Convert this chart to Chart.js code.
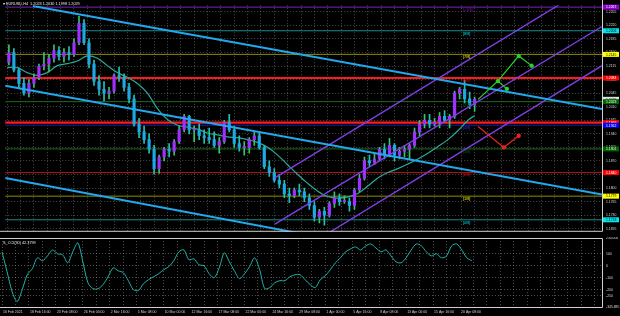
<!DOCTYPE html>
<html>
<head>
<meta charset="utf-8">
<title>EURUSD H4</title>
<script src="https://cdn.jsdelivr.net/npm/chart.js@4.4.1/dist/chart.umd.min.js"></script>
<style>
  html, body { margin: 0; padding: 0; background: #000; }
  #wrap { position: relative; width: 620px; height: 316px; overflow: hidden; background: #000; }
  #main { position: absolute; left: 0; top: 0; }
  #cci { position: absolute; left: 0; top: 237px; }
</style>
</head>
<body>
<div id="wrap">
  <canvas id="main" width="620" height="237"></canvas>
  <canvas id="cci" width="620" height="79"></canvas>
</div>
<script>
// ---- data (12h candles = 3 x H4 bars, bar 0 = 16 Feb 00:00) ----
const opens  = [1.2125,1.2150,1.2105,1.2070,1.2045,1.2070,1.2085,1.2115,1.2120,1.2135,1.2155,1.2140,1.2150,1.2145,1.2175,1.2225,1.2175,1.2120,1.2075,1.2055,1.2045,1.2050,1.2090,1.2085,1.2060,1.2030,1.1965,1.1945,1.1925,1.1900,1.1850,1.1880,1.1900,1.1895,1.1920,1.1950,1.1985,1.1950,1.1950,1.1935,1.1930,1.1925,1.1910,1.1920,1.1970,1.1950,1.1915,1.1905,1.1905,1.1925,1.1935,1.1905,1.1855,1.1840,1.1820,1.1810,1.1785,1.1780,1.1795,1.1790,1.1775,1.1755,1.1725,1.1740,1.1730,1.1760,1.1775,1.1765,1.1765,1.1755,1.1795,1.1825,1.1870,1.1865,1.1875,1.1900,1.1885,1.1910,1.1885,1.1895,1.1900,1.1910,1.1945,1.1965,1.1975,1.1965,1.1970,1.1985,1.1975,1.1985,1.2045,1.2055,1.2030,1.2015];
const highs  = [1.2170,1.2160,1.2110,1.2085,1.2080,1.2095,1.2120,1.2150,1.2145,1.2170,1.2165,1.2160,1.2165,1.2185,1.2243,1.2235,1.2185,1.2130,1.2090,1.2075,1.2060,1.2095,1.2112,1.2095,1.2070,1.2040,1.1980,1.1960,1.1940,1.1910,1.1885,1.1905,1.1915,1.1925,1.1960,1.1990,1.1988,1.1960,1.1965,1.1950,1.1955,1.1945,1.1930,1.1975,1.1990,1.1960,1.1935,1.1920,1.1930,1.1945,1.1942,1.1910,1.1870,1.1850,1.1835,1.1820,1.1800,1.1800,1.1810,1.1800,1.1785,1.1765,1.1745,1.1750,1.1765,1.1790,1.1785,1.1780,1.1775,1.1800,1.1835,1.1880,1.1885,1.1890,1.1905,1.1915,1.1928,1.1915,1.1905,1.1910,1.1915,1.1955,1.1975,1.1990,1.1990,1.1980,1.1995,1.2000,1.1990,1.2050,1.2060,1.2079,1.2048,1.2035];
const lows   = [1.2118,1.2100,1.2060,1.2040,1.2035,1.2060,1.2080,1.2105,1.2100,1.2125,1.2130,1.2125,1.2130,1.2140,1.2170,1.2170,1.2110,1.2065,1.2040,1.2025,1.2030,1.2045,1.2075,1.2050,1.2020,1.1960,1.1930,1.1915,1.1890,1.1836,1.1838,1.1870,1.1880,1.1885,1.1915,1.1945,1.1940,1.1920,1.1925,1.1915,1.1915,1.1905,1.1890,1.1915,1.1945,1.1905,1.1895,1.1885,1.1890,1.1910,1.1900,1.1850,1.1830,1.1815,1.1800,1.1775,1.1762,1.1775,1.1780,1.1765,1.1745,1.1715,1.1710,1.1704,1.1725,1.1750,1.1755,1.1760,1.1740,1.1745,1.1790,1.1820,1.1855,1.1860,1.1870,1.1875,1.1880,1.1870,1.1875,1.1880,1.1875,1.1905,1.1935,1.1955,1.1955,1.1960,1.1955,1.1970,1.1955,1.1980,1.2030,1.2020,1.2005,1.1998];
const closes = [1.2150,1.2105,1.2070,1.2045,1.2070,1.2085,1.2115,1.2120,1.2135,1.2155,1.2140,1.2150,1.2145,1.2175,1.2225,1.2175,1.2120,1.2075,1.2055,1.2045,1.2050,1.2090,1.2085,1.2060,1.2030,1.1965,1.1945,1.1925,1.1900,1.1850,1.1880,1.1900,1.1895,1.1920,1.1950,1.1985,1.1950,1.1950,1.1935,1.1930,1.1925,1.1910,1.1920,1.1970,1.1950,1.1915,1.1905,1.1905,1.1925,1.1935,1.1905,1.1855,1.1840,1.1820,1.1810,1.1785,1.1780,1.1795,1.1790,1.1775,1.1755,1.1725,1.1740,1.1730,1.1760,1.1775,1.1765,1.1765,1.1755,1.1795,1.1825,1.1870,1.1865,1.1875,1.1900,1.1885,1.1910,1.1885,1.1895,1.1900,1.1910,1.1945,1.1965,1.1975,1.1965,1.1970,1.1985,1.1975,1.1985,1.2045,1.2055,1.2030,1.2015,1.2029];

// moving average, one reading per day (bar index, price)
const maBars   = [0,6,12,18,24,30,36,42,48,54,60,66,72,78,84,90,96,102,108,114,120,126,132,138,144,150,156,162,168,174,180,186,192,198,204,210,216,222,228,234,240,246,252,258,264,270,276,280];
const maValues = [1.2111,1.2111,1.2098,1.2091,1.2098,1.2116,1.2121,1.2128,1.2141,1.2135,1.2116,1.2098,1.2086,1.2070,1.2045,1.2005,1.1977,1.1962,1.1957,1.1952,1.1942,1.1937,1.1932,1.1930,1.1925,1.1918,1.1905,1.1885,1.1860,1.1835,1.1812,1.1792,1.1778,1.1774,1.1777,1.1786,1.1805,1.1826,1.1840,1.1850,1.1862,1.1875,1.1890,1.1907,1.1925,1.1948,1.1975,1.1987];

// CCI(30), one reading every 3 bars
const cciValues = [117,-50,-217,-300,-200,-75,-25,67,42,83,133,100,92,25,117,192,33,-142,-192,-192,-158,-92,-17,-42,-58,-125,-200,-208,-150,-117,-92,-67,-33,-8,42,117,133,50,58,8,0,-67,-100,-17,108,33,-42,-108,-67,-8,67,-33,-192,-183,-142,-125,-125,-92,-75,-75,-117,-158,-183,-117,-83,-33,25,67,117,142,158,133,167,183,150,117,133,83,33,25,67,133,183,167,117,83,100,67,83,167,183,133,67,42];
const cciLevels = [100, 0, -100, -200, -250];
const cciMin = -345.885, cciMax = 233.0;

// Murrey math levels
const murreyLevels = [1.2267,1.2206,1.2145,1.2084,1.2023,1.1962,1.1901,1.1840,1.1779,1.1718];
const murreyNames  = ['[+1/8]','[8/8]','[7/8]','[6/8]','[5/8]','[4/8]','[3/8]','[2/8]','[1/8]','[0/8]'];
const murreyLine   = ['#7d22b8','#1a8c8c','#8c8c00','#c81818','#1d6b1d','#1a1aa8','#1d6b1d','#b01515','#8c8c00','#1a8c8c'];
const murreyBox    = ['#9400d3','#00e5ee','#ffff00','#ff0000','#006400','#0000ff','#006400','#ff0000','#ffff00','#00e5ee'];
const murreyText   = ['#fff','#000','#000','#fff','#fff','#fff','#fff','#fff','#000','#000'];

// thick red support / resistance
const redLevels = [1.2084, 1.1969];

// trend lines [bar, price]
const blueLines = [
  [[15.4, 1.2270], [356.3, 1.2004]],
  [[-1.2, 1.2064], [356.3, 1.1783]],
  [[-1.2, 1.1826], [174.0, 1.1684]]
];
const purpleLines = [
  [[160.3, 1.1826], [330.2, 1.2272]],
  [[160.3, 1.1707], [356.3, 1.2217]],
  [[193.6, 1.1687], [356.3, 1.2116]]
];

// forecast paths [bar, price]
const greenPaths = [
  [[282.1, 1.2029], [293.9, 1.2076], [299.3, 1.2056]],
  [[293.9, 1.2076], [306.4, 1.2141], [314.1, 1.2116]]
];
const redPath = [[282.1, 1.1959], [297.5, 1.1905], [306.4, 1.1935]];

const priceTicks = [1.1695,1.1730,1.1765,1.1800,1.1835,1.1870,1.1905,1.1940,1.1975,1.2010,1.2045,1.2080,1.2115,1.2150,1.2185,1.2220,1.2255];
const timeLabels = ['16 Feb 2021','18 Feb 16:00','23 Feb 08:00','26 Feb 00:00','2 Mar 16:00','5 Mar 08:00','10 Mar 00:00','12 Mar 16:00','17 Mar 08:00','22 Mar 00:00','24 Mar 16:00','29 Mar 08:00','1 Apr 00:00','5 Apr 16:00','8 Apr 08:00','13 Apr 00:00','15 Apr 16:00','20 Apr 08:00'];

const symbolText = 'EURUSD,H4  1.2023 1.2030 1.1998 1.2029';
const cciText = 'S_CCI(30) 42.3799';
const lastClose = closes[closes.length - 1];

// ---- chart setup ----
const xMin = -1.2, xMax = 356.3;
const gridBars = [];
for (let b = 0; b <= 352; b += 8) gridBars.push(b);

const bullBody = '#a030ff', bearBody = '#1ea8e4';
const bullWick = '#36c46a', bearWick = '#22c2b0';
const gridColor = 'rgba(150,150,150,0.5)';
const frameColor = '#cfcfcf';
const tinyFont = '"Liberation Sans", Arial, sans-serif';

const candleX = closes.map((c, i) => 3 * i + 1);
const isUp = closes.map((c, i) => c >= opens[i]);
const toPts = arr => arr.map(p => ({ x: p[0], y: p[1] }));

function hLine(price, color, width, order) {
    return {
        type: 'line',
        data: [{ x: xMin, y: price }, { x: xMax, y: price }],
        borderColor: color, borderWidth: width, pointRadius: 0, order: order
    };
}

function fixWidth(w) {
    return scale => { scale.width = w; scale.paddingTop = 0; scale.paddingBottom = 0; };
}

const datasets = [];
murreyLevels.forEach((p, i) => datasets.push(hLine(p, murreyLine[i], 1, 10)));
redLevels.forEach(p => datasets.push(hLine(p, '#ff1a1a', 2.2, 9)));
datasets.push({
    type: 'line',
    data: maBars.map((b, i) => ({ x: b, y: maValues[i] })),
    borderColor: '#2aa89a', borderWidth: 1.2, pointRadius: 0, tension: 0.35, order: 5
});
datasets.push({
    type: 'bar',
    data: candleX.map((x, i) => ({ x: x, y: [lows[i], highs[i]] })),
    backgroundColor: isUp.map(u => u ? bullWick : bearWick),
    barThickness: 1, grouped: false, order: 4
});
datasets.push({
    type: 'bar',
    data: candleX.map((x, i) => ({ x: x, y: [opens[i], closes[i]] })),
    backgroundColor: isUp.map(u => u ? bullBody : bearBody),
    barThickness: 2.5, grouped: false, minBarLength: 1, order: 3
});
blueLines.forEach(l => datasets.push({
    type: 'line', data: toPts(l), borderColor: '#22a8ec', borderWidth: 2, pointRadius: 0, order: 2
}));
purpleLines.forEach(l => datasets.push({
    type: 'line', data: toPts(l), borderColor: '#7f3fe6', borderWidth: 1.4, pointRadius: 0, order: 2
}));
greenPaths.forEach(l => datasets.push({
    type: 'line', data: toPts(l), borderColor: '#2bd12b', backgroundColor: '#2bd12b',
    borderWidth: 1.2, pointRadius: [0, 1.6, 1.6], order: 1
}));
datasets.push({
    type: 'line', data: toPts(redPath), borderColor: '#ee2222', backgroundColor: '#ee2222',
    borderWidth: 1.2, pointRadius: [0, 1.6, 1.6], order: 1
});

const mainOverlay = {
    id: 'mainOverlay',
    afterDatasetsDraw(chart) {
        const { ctx, scales: { x, y } } = chart;
        ctx.save();
        ctx.font = '3.8px ' + tinyFont;
        ctx.textBaseline = 'top';
        murreyLevels.forEach((p, i) => {
            ctx.fillStyle = murreyBox[i] === '#0000ff' ? '#3030ff' : murreyBox[i];
            ctx.fillText(murreyNames[i], x.getPixelForValue(273), y.getPixelForValue(p) + 1);
        });
        ctx.restore();
    },
    afterDraw(chart) {
        const { ctx, chartArea: a, scales: { y } } = chart;
        ctx.save();
        ctx.strokeStyle = frameColor;
        ctx.lineWidth = 1;
        ctx.beginPath();
        ctx.moveTo(a.right + 0.5, 0);
        ctx.lineTo(a.right + 0.5, a.bottom - 0.5);
        ctx.lineTo(0, a.bottom - 0.5);
        ctx.stroke();

        ctx.font = '3.4px ' + tinyFont;
        ctx.textBaseline = 'middle';
        const box = (p, bg, fg) => {
            const yy = y.getPixelForValue(p);
            ctx.fillStyle = bg;
            ctx.fillRect(a.right + 1, yy - 2.5, 16, 5);
            ctx.fillStyle = fg;
            ctx.fillText(p.toFixed(4), a.right + 4, yy + 0.3);
        };
        box(lastClose, '#e0e0e0', '#000');
        murreyLevels.forEach((p, i) => {
            if (i === 5) box(redLevels[1], '#ff0000', '#fff');
            box(p, murreyBox[i], murreyText[i]);
        });

        ctx.fillStyle = '#e8e8e8';
        ctx.textBaseline = 'top';
        ctx.font = '3.8px ' + tinyFont;
        ctx.fillText('\u25BE ' + symbolText, 3, 2);
        ctx.restore();
    }
};

new Chart(document.getElementById('main'), {
    data: { datasets: datasets },
    options: {
        responsive: false,
        animation: false,
        events: [],
        layout: { padding: 0 },
        plugins: { legend: { display: false }, tooltip: { enabled: false } },
        scales: {
            x: {
                type: 'linear', min: xMin, max: xMax, offset: false,
                afterBuildTicks: s => { s.ticks = gridBars.map(v => ({ value: v })); },
                ticks: { display: false },
                grid: { color: gridColor, drawTicks: false, offset: false },
                border: { display: false, dash: [1, 2] }
            },
            y: {
                type: 'linear', position: 'right', min: 1.1687, max: 1.2272,
                afterBuildTicks: s => { s.ticks = priceTicks.map(v => ({ value: v })); },
                afterFit: fixWidth(18),
                ticks: {
                    color: '#d8d8d8', padding: 4, font: { size: 3.4, family: tinyFont },
                    callback: v => v.toFixed(4)
                },
                grid: { color: gridColor, drawTicks: false },
                border: { display: false, dash: [1, 2] }
            }
        }
    },
    plugins: [mainOverlay]
});

const cciOverlay = {
    id: 'cciOverlay',
    afterDraw(chart) {
        const { ctx, chartArea: a } = chart;
        ctx.save();
        ctx.strokeStyle = frameColor;
        ctx.lineWidth = 1;
        ctx.beginPath();
        ctx.moveTo(0, a.top + 0.5);
        ctx.lineTo(a.right + 0.5, a.top + 0.5);
        ctx.lineTo(a.right + 0.5, a.bottom + 0.5);
        ctx.lineTo(0, a.bottom + 0.5);
        ctx.stroke();
        ctx.fillStyle = '#e8e8e8';
        ctx.font = '3.8px ' + tinyFont;
        ctx.textBaseline = 'top';
        ctx.fillText(cciText, 3, a.top + 3);
        ctx.restore();
    }
};

new Chart(document.getElementById('cci'), {
    type: 'line',
    data: {
        datasets: [{
            data: cciValues.map((v, i) => ({ x: 3 * i, y: v })),
            borderColor: '#20b2aa', borderWidth: 1, pointRadius: 0, tension: 0.3
        }]
    },
    options: {
        responsive: false,
        animation: false,
        events: [],
        layout: { padding: { top: 1 } },
        plugins: { legend: { display: false }, tooltip: { enabled: false } },
        scales: {
            x: {
                type: 'linear', min: xMin, max: xMax, offset: false,
                afterBuildTicks: s => { s.ticks = gridBars.map(v => ({ value: v })); },
                afterFit: s => { s.height = 9; s.paddingLeft = 0; s.paddingRight = 0; },
                ticks: {
                    color: '#d0d0d0', padding: 2.5, align: 'start', autoSkip: false,
                    maxRotation: 0, minRotation: 0, font: { size: 3.5, family: tinyFont },
                    callback: v => (v % 16 === 0 && timeLabels[v / 16]) ? ' ' + timeLabels[v / 16] : ''
                },
                grid: { color: gridColor, drawTicks: false, offset: false },
                border: { display: false, dash: [1, 2] }
            },
            y: {
                type: 'linear', position: 'right', min: cciMin, max: cciMax,
                afterBuildTicks: s => {
                    s.ticks = [cciMax].concat(cciLevels, [cciMin]).map(v => ({ value: v }));
                },
                afterFit: fixWidth(18),
                ticks: {
                    color: '#d8d8d8', padding: 4, font: { size: 3.4, family: tinyFont },
                    callback: v => (v === cciMax || v === cciMin) ? v.toFixed(3) : String(v)
                },
                grid: {
                    color: c => cciLevels.includes(c.tick.value) ? gridColor : 'rgba(0,0,0,0)',
                    drawTicks: false
                },
                border: { display: false, dash: [1, 2] }
            }
        }
    },
    plugins: [cciOverlay]
});
</script>
</body>
</html>
